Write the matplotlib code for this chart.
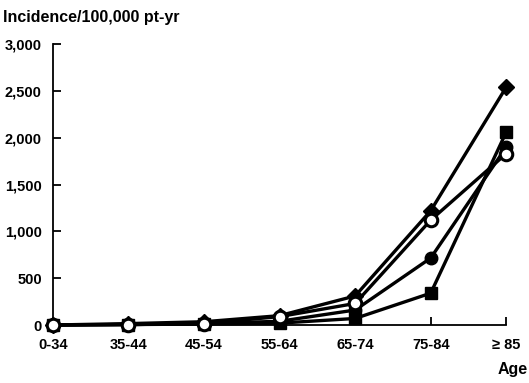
import matplotlib.pyplot as plt

ages = ['0-34', '35-44', '45-54', '55-64', '65-74', '75-84', '\u2265 85']
yticks = [0, 500, 1000, 1500, 2000, 2500, 3000]

diamond = [0, 15, 35, 100, 310, 1220, 2540]
square = [0, 5, 10, 20, 70, 340, 2060]
circle = [0, 5, 15, 40, 160, 715, 1900]
open_circle = [0, 5, 15, 90, 230, 1120, 1830]

plt.rcParams['font.family'] = ['Liberation Sans', 'DejaVu Sans']
plt.rcParams['font.weight'] = 'bold'

fig = plt.figure(figsize=(5.29, 3.83), dpi=100)
ax = fig.add_axes([0.1, 0.1514, 0.857, 0.7336])

x = list(range(len(ages)))
style = dict(color='black', lw=2.4, clip_on=False, zorder=3)
ax.plot(x, square, marker='s', ms=8, mfc='black', mec='black', **style)
ax.plot(x, circle, marker='o', ms=9, mfc='black', mec='black', **style)
ax.plot(x, diamond, marker='D', ms=8, mfc='black', mec='black', **style)
ax.plot(x, open_circle, marker='o', ms=9, mfc='white', mec='black', mew=2.2, **style)

ax.set_xlim(0, 6)
ax.set_ylim(0, 3000)
ax.set_xticks(x)
ax.set_xticklabels(ages)
ax.set_yticks(yticks)
ax.set_yticklabels(['{:,}'.format(v) for v in yticks])
for s in ['top', 'right']:
    ax.spines[s].set_visible(False)
for s in ['left', 'bottom']:
    ax.spines[s].set_linewidth(1.3)
ax.tick_params(direction='in', length=6, width=1.3, labelsize=10.5)
ax.tick_params(axis='x', pad=9)
ax.tick_params(axis='y', pad=8)

fig.text(0.006, 0.955, 'Incidence/100,000 pt-yr', fontsize=11.5, fontweight='bold',
         va='center', ha='left')
fig.text(0.997, 0.035, 'Age', fontsize=11.5, fontweight='bold', va='center', ha='right')

fig.savefig('out.png', dpi=100)
